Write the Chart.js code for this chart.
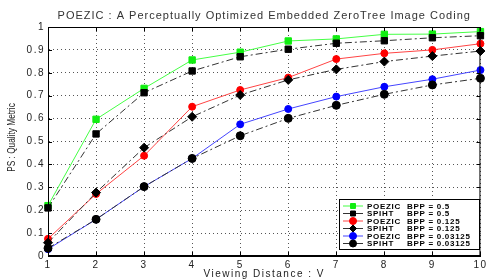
<!DOCTYPE html>
<html>
<head>
<meta charset="utf-8">
<script src="https://cdn.jsdelivr.net/npm/chart.js@4/dist/chart.umd.min.js"></script>
<style>
    html, body { margin: 0; padding: 0; background: #fff; }
    #wrap { width: 489px; height: 280px; }
</style>
</head>
<body>
<div id="wrap"><canvas id="psChart" width="489" height="280"></canvas></div>
<script>
// viewing distance (x axis)
var distances = [1, 2, 3, 4, 5, 6, 7, 8, 9, 10];

// PS quality metric
var poezic05 = [0.22, 0.597, 0.732, 0.856, 0.89, 0.939, 0.948, 0.968, 0.969, 0.98];
var spiht05 = [0.21, 0.533, 0.713, 0.808, 0.87, 0.903, 0.929, 0.94, 0.953, 0.962];
var poezic0125 = [0.075, 0.271, 0.438, 0.652, 0.725, 0.779, 0.86, 0.885, 0.9, 0.927];
var spiht0125 = [0.058, 0.277, 0.473, 0.608, 0.703, 0.769, 0.815, 0.849, 0.873, 0.895];
var poezic003125 = [0.03, 0.16, 0.303, 0.426, 0.575, 0.642, 0.696, 0.739, 0.772, 0.812];
var spiht003125 = [0.034, 0.16, 0.303, 0.426, 0.525, 0.601, 0.658, 0.706, 0.747, 0.776];

var methodNames = ["POEZIC", "SPIHT", "POEZIC", "SPIHT", "POEZIC", "SPIHT"];
var bppLabels = ["0.5", "0.5", "0.125", "0.125", "0.03125", "0.03125"];
var yTickValues = [0, 0.1, 0.2, 0.3, 0.4, 0.5, 0.6, 0.7, 0.8, 0.9, 1];

var chartTitle = "POEZIC : A Perceptually Optimized Embedded ZeroTree Image Coding";
var yTitle = "PS : Quality Metric";
var FONT = "Arial, 'Liberation Sans', sans-serif";

function makeSet(i, values, lineColor, pointColor, style, radius, dashed) {
    return {
        label: methodNames[i] + " BPP = " + bppLabels[i],
        data: values.map(function (v, k) { return { x: distances[k], y: v }; }),
        borderColor: lineColor,
        backgroundColor: pointColor,
        pointBackgroundColor: pointColor,
        pointBorderColor: pointColor,
        pointStyle: style,
        pointRadius: radius,
        pointBorderWidth: 1,
        borderWidth: 1,
        borderDash: dashed ? [7, 3, 2, 3] : [],
        tension: 0,
        fill: false,
        clip: false,
        order: 6 - i,
    };
}

// MATLAB-ish extras: wide text spacing, frame, inward ticks, titles, boxed legend
var matlabBits = {
    id: "matlabBits",
    beforeDraw: function (chart) {
        chart.ctx.letterSpacing = "1.5px";
    },
    afterDraw: function (chart) {
        var ctx = chart.ctx;
        var a = chart.chartArea;
        var xs = chart.scales.x, ys = chart.scales.y;
        ctx.save();
        ctx.strokeStyle = "#000";
        ctx.lineWidth = 1;
        ctx.setLineDash([]);
        ctx.strokeRect(a.left + 0.5, a.top + 0.5, a.right - a.left - 1, a.bottom - a.top - 1);
        ctx.beginPath();
        distances.forEach(function (d) {
            var px = Math.round(xs.getPixelForValue(d)) + 0.5;
            ctx.moveTo(px, a.bottom); ctx.lineTo(px, a.bottom - 4);
            ctx.moveTo(px, a.top); ctx.lineTo(px, a.top + 4);
        });
        yTickValues.forEach(function (v) {
            var py = Math.round(ys.getPixelForValue(v)) + 0.5;
            ctx.moveTo(a.left, py); ctx.lineTo(a.left + 4, py);
            ctx.moveTo(a.right, py); ctx.lineTo(a.right - 4, py);
        });
        ctx.stroke();

        // chart title
        ctx.fillStyle = "#333";
        ctx.letterSpacing = "1px";
        ctx.font = "11px " + FONT;
        ctx.textAlign = "center";
        ctx.textBaseline = "middle";
        ctx.fillText(chartTitle, (a.left + a.right) / 2, 16);

        // y title, narrow face
        ctx.save();
        ctx.translate(12, (a.top + a.bottom) / 2 - 4);
        ctx.rotate(-Math.PI / 2);
        ctx.scale(0.83, 1);
        ctx.letterSpacing = "0px";
        ctx.font = "10px " + FONT;
        ctx.fillStyle = "#222";
        ctx.fillText(yTitle, 0, 0);
        ctx.restore();

        // legend box
        var bx = 339, by = 199, bw = 140, bh = 50;
        ctx.fillStyle = "#fff";
        ctx.fillRect(bx, by, bw, bh);
        ctx.strokeStyle = "#000";
        ctx.strokeRect(bx + 0.5, by + 0.5, bw, bh);
        ctx.font = "bold 8px " + FONT;
        ctx.letterSpacing = "0.7px";
        ctx.textAlign = "left";
        chart.data.datasets.forEach(function (ds, i) {
            var y = by + 7 + i * 7.5;
            ctx.strokeStyle = ds.borderColor;
            ctx.beginPath();
            ctx.moveTo(bx + 4, y); ctx.lineTo(bx + 24, y);
            ctx.stroke();
            ctx.fillStyle = ds.pointBackgroundColor;
            ctx.strokeStyle = ds.pointBorderColor;
            Chart.helpers.drawPoint(ctx, { pointStyle: ds.pointStyle, radius: 3.5, borderWidth: 1, rotation: 0 }, bx + 14, y);
            ctx.fillStyle = "#000";
            ctx.fillText(methodNames[i], bx + 28, y + 0.5);
            ctx.fillText("BPP = " + bppLabels[i], bx + 68, y + 0.5);
        });
        ctx.restore();
    },
};

document.addEventListener("DOMContentLoaded", function () {
    var ctx = document.getElementById("psChart").getContext("2d");
    var psChart = new Chart(ctx, {
        type: "line",
        data: {
            datasets: [
                makeSet(0, poezic05, "#44ff44", "#11ee11", "rect", 4.5, false),
                makeSet(1, spiht05, "#333", "#000", "rect", 4.5, true),
                makeSet(2, poezic0125, "#ff4444", "#ff0000", "circle", 3.5, false),
                makeSet(3, spiht0125, "#333", "#000", "rectRot", 4.5, true),
                makeSet(4, poezic003125, "#4444ff", "#0000ff", "circle", 3.5, false),
                makeSet(5, spiht003125, "#333", "#000", "circle", 4, true),
            ],
        },
        options: {
            responsive: false,
            animation: false,
            devicePixelRatio: 1,
            layout: { padding: { top: 27, right: 5, left: 0, bottom: 0 } },
            scales: {
                x: {
                    type: "linear",
                    min: 1,
                    max: 10,
                    afterFit: function (scale) { scale.height = 24; },
                    ticks: {
                        stepSize: 1,
                        padding: 3,
                        color: "#222",
                        font: { family: FONT, size: 10 },
                    },
                    grid: { color: "#555", drawTicks: false },
                    border: { display: true, color: "#000", dash: [1, 3] },
                    title: {
                        display: true,
                        text: "Viewing Distance : V",
                        color: "#222",
                        padding: { top: 0, bottom: 0 },
                        font: { family: FONT, size: 10 },
                    },
                },
                y: {
                    min: 0,
                    max: 1,
                    afterFit: function (scale) { scale.width = 48; },
                    afterBuildTicks: function (scale) {
                        scale.ticks = yTickValues.map(function (v) { return { value: v }; });
                    },
                    ticks: {
                        padding: 3,
                        color: "#222",
                        font: { family: FONT, size: 10 },
                        callback: function (v) { return String(Number(v.toFixed(1))); },
                    },
                    grid: { color: "#555", drawTicks: false },
                    border: { display: true, color: "#000", dash: [1, 3] },
                },
            },
            plugins: {
                legend: { display: false },
                tooltip: { enabled: false },
            },
        },
        plugins: [matlabBits],
    });
});
</script>
</body>
</html>
